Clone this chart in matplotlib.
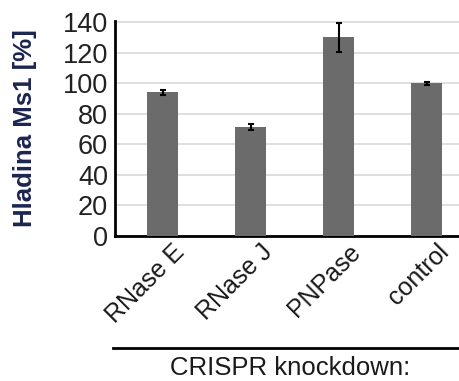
import matplotlib.pyplot as plt
import matplotlib.transforms as mtransforms
from matplotlib.lines import Line2D
import numpy as np

plt.rcParams['font.family'] = ['Liberation Sans', 'DejaVu Sans']

categories = ['RNase E', 'RNase J', 'PNPase', 'control']
values = [94, 71, 130, 100]
errors = [1.5, 2, 9.5, 1]
yticks = [0, 20, 40, 60, 80, 100, 120, 140]

fig = plt.figure(figsize=(4.6, 3.81), dpi=100)
ax = fig.add_axes([0.25, 0.381, 0.75, 0.565])

x = np.arange(len(categories))
ax.bar(x, values, width=0.35, color='#6b6b6b', zorder=3)
ax.errorbar(x, values, yerr=errors, fmt='none', ecolor='black',
            elinewidth=1.5, capsize=2.5, capthick=1.5, zorder=4)

ax.set_xlim(-0.54, 3.38)
ax.set_ylim(0, 141)
ax.set_yticks(yticks)
ax.tick_params(axis='y', length=0, labelsize=19.5, pad=5, labelcolor='#222222')
ax.tick_params(axis='x', length=0, labelsize=18, pad=0, labelcolor='#1a1a1a')
ax.grid(axis='y', color='#d9d9d9', linewidth=1.2, zorder=0)

ax.set_xticks(x)
ax.set_xticklabels(categories, rotation=45, ha='right', rotation_mode='anchor')
offset = mtransforms.ScaledTranslation(0.1, -0.04, fig.dpi_scale_trans)
for lbl in ax.get_xticklabels():
    lbl.set_transform(lbl.get_transform() + offset)

for side in ['top', 'right']:
    ax.spines[side].set_visible(False)
for side in ['left', 'bottom']:
    ax.spines[side].set_linewidth(2)
    ax.spines[side].set_color('black')

ax.set_ylabel('Hladina Ms1 [%]', fontsize=18.5, fontweight='bold', color='#1c2550')
ax.yaxis.set_label_coords(-0.225, 0.5)

fig.add_artist(Line2D([0.245, 1.0], [1 - 348 / 381, 1 - 348 / 381],
                      color='black', linewidth=2, transform=fig.transFigure))
fig.text(290 / 460, 1 - 368 / 381, 'CRISPR knockdown:', fontsize=18.5,
         ha='center', va='center', color='#1a1a1a')

fig.savefig('out.png', dpi=100)
